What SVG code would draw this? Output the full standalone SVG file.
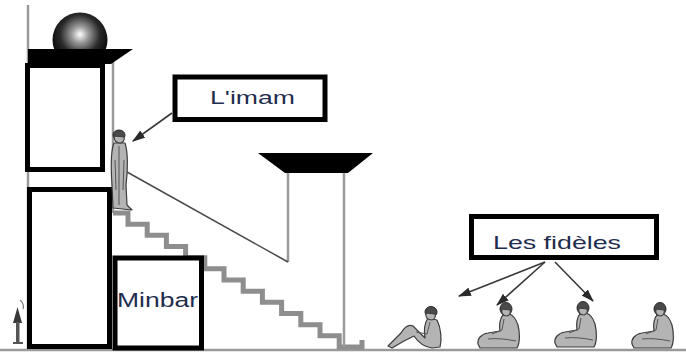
<svg xmlns="http://www.w3.org/2000/svg" width="686" height="354" viewBox="0 0 686 354">
  <style>
    .pole { stroke: #9a9a9a; stroke-width: 2.5; fill: none; }
    .frame { fill: #ffffff; stroke: #000000; stroke-width: 5; }
    .label { font-family: "Liberation Sans", Arial, sans-serif; fill: #1f2d4f; }
    .stairs { fill: none; stroke: #8e8e8e; stroke-width: 5; stroke-linejoin: miter; }
    .wire { stroke: #4a4a4a; stroke-width: 1.5; fill: none; }
    .pointer { stroke: #3a3a3a; stroke-width: 1.6; fill: none; marker-end: url(#head); }
    .body { fill: #b4b4b4; stroke: #3c3c3c; stroke-width: 1.2; stroke-linejoin: round; }
    .hair { fill: #4a4a4a; stroke: #2a2a2a; stroke-width: 1; }
    .detail { fill: none; stroke: #555; stroke-width: 1; }
  </style>
  <defs>
    <radialGradient id="domeShade" cx="0.5" cy="0.4" r="0.6">
      <stop offset="0" stop-color="#ffffff"/>
      <stop offset="0.25" stop-color="#9a9a9a"/>
      <stop offset="0.6" stop-color="#2a2a2a"/>
      <stop offset="1" stop-color="#000000"/>
    </radialGradient>
    <marker id="head" viewBox="0 0 12 8" refX="11" refY="4" markerWidth="13" markerHeight="9" markerUnits="userSpaceOnUse" orient="auto">
      <path d="M0,0 L12,4 L0,8 Z" fill="#2a2a2a"/>
    </marker>
    <!-- kneeling worshipper, origin at floor level, facing left -->
    <symbol id="kneel" viewBox="0 0 46 46" overflow="visible">
      <path class="body" d="M27,12 C24,15 23,22 24,28 L12,30 C5,31 1,36 2,41 L4,45 L41,45 C44,40 44,30 42,22 C40,16 37,12 33,11 Z"/>
      <path class="detail" d="M28,16 L26,27 L16,31 M12,36 C20,35 30,36 40,38"/>
      <ellipse class="hair" cx="30" cy="6" rx="6" ry="6.5"/>
      <path class="body" d="M26,6 C25,10 27,13 31,13 C34,12 35,9 34,7 Z"/>
    </symbol>
  </defs>

  <!-- ground -->
  <line x1="0" y1="350" x2="686" y2="350" stroke="#9a9a9a" stroke-width="2.5"/>

  <!-- minaret / pulpit poles -->
  <g id="poles">
    <line class="pole" x1="28" y1="5" x2="28" y2="350"/>
    <line class="pole" x1="113" y1="62" x2="113" y2="213"/>
  </g>

  <g id="dome">
    <circle cx="80" cy="40" r="27.5" fill="url(#domeShade)"/>
  </g>
  <g id="cap">
    <polygon points="28,49 133,49 111,64 28,64" fill="#000"/>
  </g>

  <g id="upper-block">
    <rect class="frame" x="27.5" y="65.5" width="75" height="104"/>
  </g>
  <g id="lower-block">
    <rect class="frame" x="29.5" y="189.5" width="80" height="157"/>
  </g>

  <!-- stairs -->
  <g id="staircase">
    <path class="stairs" d="M113,213 H128 V224.2 H147.2 V235.3 H166.4 V246.5 H185.6 V257.7 H204.8 V268.8 H224 V280 H243.2 V291.2 H262.4 V302.3 H281.6 V313.5 H300.8 V324.7 H320 V335.8 H339.2 V347 H362 V340"/>
  </g>

  <g id="minbar">
    <rect class="frame" x="115" y="258" width="86.5" height="90" stroke-width="4.5"/>
    <text class="label" x="117" y="307" font-size="19.5" textLength="81" lengthAdjust="spacingAndGlyphs">Minbar</text>
  </g>

  <!-- canopy over the stair head -->
  <g id="canopy">
    <line class="pole" x1="288" y1="172" x2="288" y2="262"/>
    <line class="pole" x1="344" y1="172" x2="344" y2="347"/>
    <polygon points="258,153 373,153 348,173 285,173" fill="#000"/>
  </g>

  <!-- imam standing at the top of the stairs -->
  <g id="imam">
    <path class="body" d="M114,143 C111,150 111,170 112,185 L113,208 L132,210 L127,205 L126,185 C128,170 128,152 125,143 Z"/>
    <path class="detail" d="M119,146 L119,205 M115,160 L116,190 M124,160 L123,190"/>
    <ellipse class="hair" cx="119" cy="135" rx="6" ry="5"/>
    <path class="body" d="M114,136 C114,141 117,143 120,143 C123,143 125,140 124,137 Z"/>
  </g>

  <g id="connectors">
    <line class="wire" x1="127" y1="172" x2="288" y2="262"/>
    <line class="pointer" x1="172" y1="113" x2="133" y2="141"/>
    <line class="pointer" x1="545" y1="262" x2="459" y2="296"/>
    <line class="pointer" x1="545" y1="262" x2="497" y2="305"/>
    <line class="pointer" x1="555" y1="262" x2="593" y2="301"/>
  </g>

  <g id="imam-label">
    <rect class="frame" x="175" y="77" width="150" height="42.5" stroke-width="4.5"/>
    <text class="label" x="210" y="104" font-size="17.5" textLength="85" lengthAdjust="spacingAndGlyphs">L'imam</text>
  </g>

  <g id="faithful-label">
    <rect class="frame" x="471.5" y="216.5" width="185" height="41"/>
    <text class="label" x="493" y="249" font-size="19" textLength="128" lengthAdjust="spacingAndGlyphs">Les fidèles</text>
  </g>

  <!-- worshippers seated on the floor -->
  <g id="faithful-1">
    <path class="body" d="M428,318 C424,324 424,332 425,338 L413,326 C408,324 404,328 401,333 L388,346 L392,348 L404,341 L414,336 C418,342 424,347 432,348 L440,347 C442,340 441,328 437,320 Z"/>
    <path class="detail" d="M430,322 L427,334 L416,332"/>
    <ellipse class="hair" cx="431" cy="312" rx="6" ry="5.5"/>
    <path class="body" d="M426,313 C425,318 428,320 432,320 C435,319 436,316 435,314 Z"/>
  </g>
  <use id="faithful-2" href="#kneel" x="476" y="303" width="46" height="46"/>
  <use id="faithful-3" href="#kneel" x="553" y="302" width="46" height="46"/>
  <use id="faithful-4" href="#kneel" x="630" y="303" width="46" height="46"/>

  <!-- small marker at the foot of the tower -->
  <g id="marker">
    <polygon points="13,323 17.5,307 22,323" fill="#3a3a3a"/>
    <rect x="16" y="322" width="3.5" height="20" fill="#555"/>
    <path d="M13,343 H23" stroke="#555" stroke-width="2"/>
    <path d="M20,300 C23,302 24,306 23,309" stroke="#777" stroke-width="1.2" fill="none"/>
  </g>
</svg>
